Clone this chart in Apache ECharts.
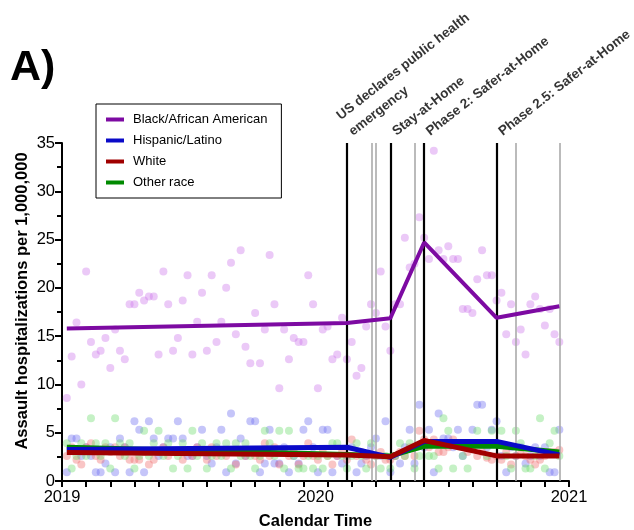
<!DOCTYPE html>
<html>
<head>
<meta charset="utf-8">
<script src="https://cdn.jsdelivr.net/npm/echarts@6/dist/echarts.min.js"></script>
<style>
html,body{margin:0;padding:0;background:#fff;}
#c{width:634px;height:530px;}
</style>
</head>
<body>
<div id="c"></div>
<script>
// Week index (weeks since 1 Jan 2019)
const weeks = Array.from({length: 103}, (_, i) => i + 1);

const blackVals = [8.6,12.9,16.4,10.0,21.7,14.4,13.1,13.5,14.8,11.7,15.7,13.5,12.6,18.3,18.3,19.5,18.7,19.1,19.1,13.1,
21.7,18.3,13.5,14.8,18.7,21.3,13.1,16.5,19.5,13.5,21.3,14.4,16.5,20.0,22.6,15.2,23.9,13.9,12.2,17.4,
12.2,15.7,23.4,18.3,9.6,15.7,12.6,14.8,14.4,14.4,21.3,18.3,9.6,15.7,16.0,12.6,13.1,16.9,12.6,14.4,
10.9,11.7,16.0,18.3,17.4,21.7,16.0,13.5,18.3,18.3,25.2,22.1,22.5,27.3,25.2,23.0,34.2,23.9,23.0,24.3,
23.0,23.0,17.8,17.8,17.4,20.9,23.9,21.3,21.3,18.7,19.5,15.2,18.3,14.4,15.7,13.1,18.3,19.1,17.8,16.1,
17.8,15.2,14.4];

const hispVals = [0.9,4.4,4.4,2.6,3.5,2.6,0.9,0.9,1.8,3.5,0.9,4.4,3.5,0.9,6.2,5.3,0.9,6.2,4.4,2.6,
3.5,4.4,4.4,6.2,4.4,2.6,2.6,3.5,5.3,2.6,1.8,3.5,5.3,0.9,7.0,1.8,4.4,2.6,6.2,6.2,
0.9,1.8,5.3,1.8,1.8,3.5,0.9,2.6,1.8,5.3,6.2,3.5,0.9,5.3,5.3,0.9,2.6,1.8,2.6,3.5,
0.9,1.8,2.6,3.5,4.4,2.6,6.2,0.9,2.6,1.8,3.5,5.3,1.8,7.9,3.5,5.3,0.9,7.0,4.4,4.4,
3.5,5.3,2.6,3.5,5.3,7.9,7.9,3.5,5.3,6.2,2.6,0.9,3.5,2.6,3.5,1.8,2.6,3.5,2.6,3.5,
0.9,0.9,5.3];

const whiteVals = [2.6,3.5,2.2,1.7,3.5,3.9,2.6,2.2,3.5,3.0,3.5,2.6,3.5,2.2,2.2,2.2,3.0,1.7,2.2,3.0,
3.5,2.6,3.0,3.0,2.2,3.0,2.6,3.5,3.0,2.2,3.5,2.6,3.0,2.6,3.0,1.7,3.0,2.6,3.0,2.6,
2.2,3.9,2.6,3.5,1.7,3.0,2.6,3.0,1.7,2.6,3.9,2.6,2.2,3.0,2.6,1.7,2.6,3.0,2.2,4.3,
2.6,3.0,2.2,1.7,2.6,3.0,2.2,2.2,2.6,3.0,2.6,3.5,2.6,5.2,4.3,3.5,4.3,3.0,3.0,3.5,
4.3,3.9,3.9,3.0,3.5,2.6,3.0,2.4,2.2,2.6,2.2,3.0,1.7,2.6,2.8,2.6,2.2,1.7,2.2,2.6,
3.0,3.0,3.2];

const otherVals = [3.9,1.3,2.6,3.9,2.6,6.5,3.9,2.6,3.9,1.3,6.5,3.9,2.6,3.9,1.3,2.6,5.2,2.6,3.9,5.2,
2.6,3.9,1.3,2.6,3.9,1.3,5.2,2.6,3.9,1.3,2.6,3.9,2.6,3.9,1.3,3.9,2.6,3.9,2.6,1.3,
2.6,5.2,3.9,2.6,5.2,1.3,5.2,2.6,1.3,1.3,2.6,1.3,2.6,1.3,2.6,3.9,3.9,2.6,1.3,2.6,
3.9,2.6,1.3,3.9,2.6,1.3,2.6,1.3,2.6,3.9,2.6,3.9,1.3,2.6,3.9,2.6,2.6,1.3,6.5,5.2,
1.3,3.9,2.6,1.3,3.9,5.2,3.9,2.6,5.2,3.9,5.2,2.6,1.3,5.2,3.9,1.3,1.3,2.6,6.5,1.3,
3.9,5.2,2.6];

// Segmented trend lines (knots at intervention weeks)
const knotWeeks = [1, 59, 68, 75, 90, 103];
const blackTrend = [15.8, 16.35, 16.85, 24.7, 16.9, 18.1];
const hispTrend  = [3.25, 3.5, 2.45, 4.1, 4.1, 2.7];
const whiteTrend = [2.95, 2.7, 2.5, 4.2, 2.6, 2.6];
const otherTrend = [3.5, 2.75, 2.6, 3.6, 3.6, 3.0];

// Vertical event lines
const eventWeeksBlack = [59, 68, 75, 90];
const eventWeeksGray = [64.1, 64.9, 73, 94, 103];
const eventLabels = ['US declares public health\nemergency', 'Stay-at-Home', 'Phase 2: Safer-at-Home', 'Phase 2.5: Safer-at-Home'];

const yearLabels = ['2019', '2020', '2021'];
const seriesNames = ['Black/African American', 'Hispanic/Latino', 'White', 'Other race'];

const FONT = '"Liberation Sans", Arial, sans-serif';

function pts(vals){ return weeks.map((w,i)=>[w, vals[i]]); }
function trend(vals){ return knotWeeks.map((w,i)=>[w, vals[i]]); }

const dotColors = ['rgba(205,120,235,0.5)','rgba(110,110,240,0.5)','rgba(240,110,110,0.5)','rgba(110,220,110,0.5)'];
const lineColors = ['#7d0aa2','#0a0ac8','#a00000','#008a00'];

const chart = echarts.init(document.getElementById('c'), null, {renderer:'canvas'});

const markLineData = eventWeeksGray.map(w=>({xAxis:w, lineStyle:{color:'#aaaaaa', width:1.6, type:'solid'}}))
  .concat(eventWeeksBlack.map(w=>({xAxis:w, lineStyle:{color:'#000', width:2.2, type:'solid'}})));

const option = {
  animation: false,
  backgroundColor: '#fff',
  title: {text: 'A)', left: 5, top: 42, textStyle: {fontFamily: FONT, fontWeight: 'bold', fontSize: 43, color:'#000'}},
  grid: {left: 62, right: 65, top: 143, bottom: 49, containLabel: false, outerBoundsMode: 'none'},
  legend: {
    data: seriesNames,
    orient: 'vertical', left: 96, top: 104,
    padding: [9, 14, 9, 10],
    itemWidth: 18, itemHeight: 4, itemGap: 8,
    icon: 'rect',
    borderColor: '#000', borderWidth: 1, borderRadius: 0,
    backgroundColor: '#fff',
    textStyle: {fontFamily: FONT, fontSize: 13, color: '#000', padding:[0,0,0,4]}
  },
  xAxis: [{
    type: 'value', min: 0, max: 105, interval: 5,
    axisLine: {lineStyle: {color: '#000', width: 2}},
    axisTick: {show: true, length: 6, lineStyle: {color:'#000', width: 2}},
    axisLabel: {show: false},
    splitLine: {show: false},
    name: 'Calendar Time', nameLocation: 'middle', nameGap: 32,
    nameTextStyle: {fontFamily: FONT, fontWeight: 'bold', fontSize: 16.5, color: '#000'}
  },{
    type: 'value', min: 0, max: 105, interval: 52.5, position: 'bottom',
    axisLine: {show: false}, axisTick: {show: false}, splitLine: {show: false},
    axisLabel: {show: true, margin: 8, fontFamily: FONT, fontSize: 16.5, color: '#000',
      showMinLabel: true, showMaxLabel: true,
      formatter: v => yearLabels[Math.round(v/52.5)]}
  }],
  yAxis: {
    type: 'value', min: 0, max: 35, interval: 5,
    axisLine: {show: true, lineStyle: {color: '#000', width: 2}},
    axisTick: {show: true, length: 7, lineStyle: {color:'#000', width: 2}},
    minorTick: {show: true, splitNumber: 2, length: 5, lineStyle: {color:'#000', width: 2}},
    axisLabel: {fontFamily: FONT, fontSize: 16.5, color: '#000', margin: 7},
    splitLine: {show: false},
    name: 'Assault hospitalizations per 1,000,000', nameLocation: 'middle', nameGap: 31,
    nameMoveOverlap: false,
    nameTextStyle: {fontFamily: FONT, fontWeight: 'bold', fontSize: 16.5, color: '#000', padding: [0, 0, 0, 22]}
  },
  series: [
    {name:'pts_black', type:'scatter', data: pts(blackVals), symbolSize: 8, itemStyle:{color: dotColors[0]}, z: 2,
     markLine: {silent: true, symbol: ['none','none'], label: {show: false}, data: markLineData, z: 3}},
    {name:'pts_hisp', type:'scatter', data: pts(hispVals), symbolSize: 8, itemStyle:{color: dotColors[1]}, z: 2},
    {name:'pts_white', type:'scatter', data: pts(whiteVals), symbolSize: 8, itemStyle:{color: dotColors[2]}, z: 2},
    {name:'pts_other', type:'scatter', data: pts(otherVals), symbolSize: 8, itemStyle:{color: dotColors[3]}, z: 2},
    {name: seriesNames[3], type:'line', data: trend(otherTrend), showSymbol:false, symbol:'none', lineStyle:{color: lineColors[3], width: 5}, itemStyle:{color: lineColors[3]}, z: 5},
    {name: seriesNames[1], type:'line', data: trend(hispTrend), showSymbol:false, symbol:'none', lineStyle:{color: lineColors[1], width: 5}, itemStyle:{color: lineColors[1]}, z: 6},
    {name: seriesNames[2], type:'line', data: trend(whiteTrend), showSymbol:false, symbol:'none', lineStyle:{color: lineColors[2], width: 5}, itemStyle:{color: lineColors[2]}, z: 7},
    {name: seriesNames[0], type:'line', data: trend(blackTrend), showSymbol:false, symbol:'none', lineStyle:{color: lineColors[0], width: 4}, itemStyle:{color: lineColors[0]}, z: 8},
    {name:'events', type:'scatter', symbolSize: 0, silent: true, z: 10,
     data: eventWeeksBlack.map((w,i)=>({value:[w, 35], label:{formatter: eventLabels[i]}})),
     label: {show: true, position: [10, -2], align: 'left', verticalAlign: 'bottom', rotate: 38,
       fontFamily: FONT, fontWeight: 'bold', fontSize: 13.5, color: '#000', lineHeight: 20}}
  ]
};
chart.setOption(option);
</script>
</body>
</html>
